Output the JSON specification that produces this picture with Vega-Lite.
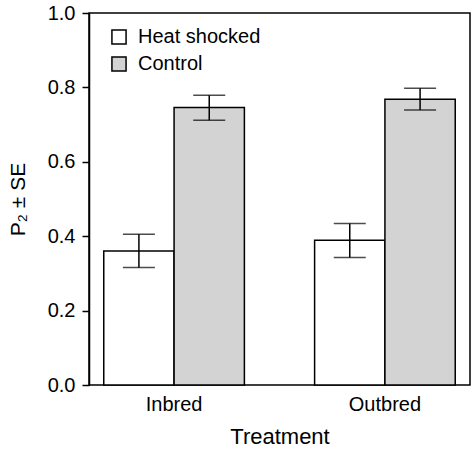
{
  "$schema": "https://vega.github.io/schema/vega-lite/v6.json",
  "width": 381,
  "height": 372,
  "autosize": {"type": "none"},
  "padding": {"left": 89, "top": 13, "right": 2, "bottom": 68},
  "background": "white",
  "config": {
    "font": "Liberation Sans",
    "view": {"stroke": "black", "strokeWidth": 1.5},
    "axis": {"grid": false, "labelColor": "black", "titleColor": "black", "domainColor": "black", "tickColor": "black", "labelFont": "Liberation Sans", "titleFont": "Liberation Sans", "titleFontWeight": "normal"},
    "legend": {"labelFont": "Liberation Sans", "labelColor": "black"}
  },
  "data": {
    "values": [
      {"treatment": "Inbred", "group": "Heat shocked", "p": 0.36, "lo": 0.316, "hi": 0.405},
      {"treatment": "Inbred", "group": "Control", "p": 0.746, "lo": 0.712, "hi": 0.779},
      {"treatment": "Outbred", "group": "Heat shocked", "p": 0.389, "lo": 0.343, "hi": 0.434},
      {"treatment": "Outbred", "group": "Control", "p": 0.768, "lo": 0.739, "hi": 0.798}
    ]
  },
  "encoding": {
    "x": {
      "field": "treatment", "type": "nominal",
      "scale": {"paddingInner": 0.333, "paddingOuter": 0.07},
      "axis": {"title": "Treatment", "labelAngle": 0, "ticks": false, "domain": false, "labelFontSize": 20, "titleFontSize": 22, "labelPadding": 9, "titlePadding": 12}
    },
    "xOffset": {"field": "group", "type": "nominal", "sort": ["Heat shocked", "Control"], "scale": {"paddingInner": 0, "paddingOuter": 0}}
  },
  "layer": [
    {
      "mark": {"type": "bar", "stroke": "black", "strokeWidth": 1.5},
      "encoding": {
        "y": {
          "field": "p", "type": "quantitative",
          "scale": {"domain": [0, 1], "nice": false},
          "axis": {"title": "P₂ ± SE", "values": [0, 0.2, 0.4, 0.6, 0.8, 1.0], "format": ".1f", "labelFontSize": 20, "titleFontSize": 21, "tickSize": 7, "tickWidth": 1.5, "domainWidth": 1.5, "labelPadding": 7, "titlePadding": 19}
        },
        "fill": {
          "field": "group", "type": "nominal",
          "sort": ["Heat shocked", "Control"],
          "scale": {"domain": ["Heat shocked", "Control"], "range": ["white", "#d3d3d3"]},
          "legend": {"title": null, "orient": "none", "legendX": 20, "legendY": 14, "symbolType": "square", "symbolSize": 200, "symbolStrokeColor": "black", "symbolStrokeWidth": 1.5, "labelFontSize": 20, "rowPadding": 5, "labelOffset": 9, "padding": 0}
        }
      }
    },
    {
      "mark": {"type": "rule", "color": "black", "strokeWidth": 1.5},
      "encoding": {
        "y": {"field": "lo", "type": "quantitative"},
        "y2": {"field": "hi"}
      }
    },
    {
      "mark": {"type": "tick", "color": "black", "thickness": 1.5, "size": 32},
      "encoding": {"y": {"field": "lo", "type": "quantitative"}}
    },
    {
      "mark": {"type": "tick", "color": "black", "thickness": 1.5, "size": 32},
      "encoding": {"y": {"field": "hi", "type": "quantitative"}}
    }
  ]
}
